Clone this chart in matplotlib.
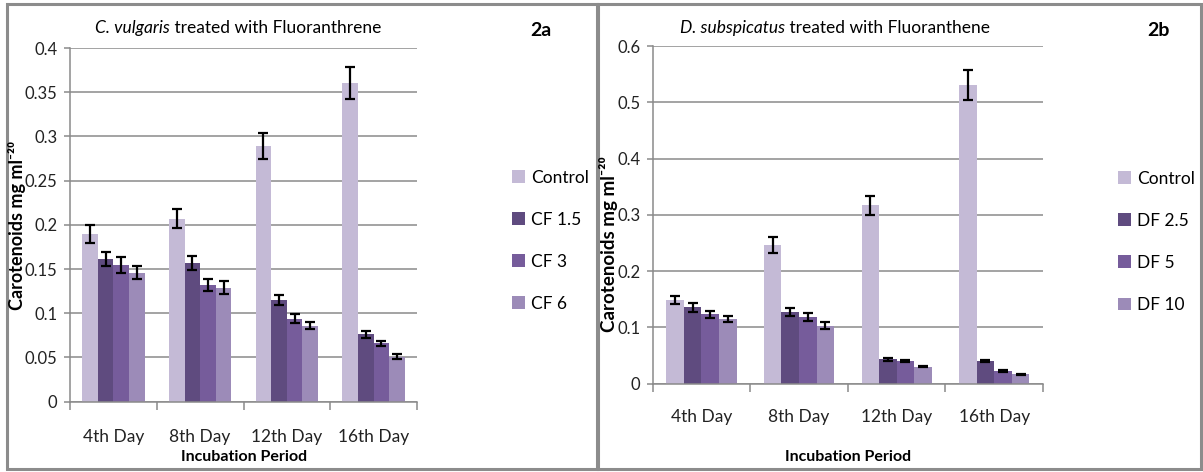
import matplotlib
matplotlib.use("Agg")
import matplotlib.pyplot as plt
from matplotlib.patches import Rectangle
import numpy as np

plt.rcParams['font.family'] = ['Lato', 'DejaVu Sans']

categories = ["4th Day", "8th Day", "12th Day", "16th Day"]

# Panel 2a: C. vulgaris
a_labels = ["Control", "CF 1.5", "CF 3", "CF 6"]
a_control = [0.190, 0.207, 0.289, 0.360]
a_cf15 = [0.161, 0.157, 0.115, 0.076]
a_cf3 = [0.155, 0.132, 0.094, 0.066]
a_cf6 = [0.146, 0.129, 0.086, 0.051]
a_control_err = [0.010, 0.011, 0.015, 0.018]
a_cf15_err = [0.008, 0.008, 0.006, 0.004]
a_cf3_err = [0.009, 0.007, 0.005, 0.003]
a_cf6_err = [0.007, 0.007, 0.004, 0.003]

# Panel 2b: D. subspicatus
b_labels = ["Control", "DF 2.5", "DF 5", "DF 10"]
b_control = [0.148, 0.246, 0.317, 0.531]
b_df25 = [0.136, 0.128, 0.043, 0.040]
b_df5 = [0.123, 0.119, 0.040, 0.023]
b_df10 = [0.115, 0.103, 0.030, 0.017]
b_control_err = [0.007, 0.014, 0.017, 0.027]
b_df25_err = [0.008, 0.007, 0.003, 0.002]
b_df5_err = [0.006, 0.007, 0.002, 0.002]
b_df10_err = [0.006, 0.006, 0.001, 0.001]

colors = ["#C4BAD6", "#5F4B7F", "#765C9B", "#9C8BB8"]

W, H = 1203, 472
fig = plt.figure(figsize=(W / 100, H / 100), dpi=100)
fig.patch.set_facecolor("white")

# panel borders
for (x0, x1) in [(7, 597), (598, 1201)]:
    fig.patches.append(Rectangle((x0 / W, 1 - 469 / H), (x1 - x0) / W, (469 - 4) / H,
                                 transform=fig.transFigure, fill=False,
                                 edgecolor="#8c8c8c", linewidth=2.2, zorder=0))


def fmt(v):
    s = ("%.2f" % v).rstrip("0").rstrip(".")
    return s if s else "0"


def draw(ax, series, errs, labels, ymax, ystep, legend_anchor, catpad):
    n = len(categories)
    x = np.arange(n)
    bw = 0.18
    offsets = (np.arange(4) - 1.5) * bw
    for i, (vals, e) in enumerate(zip(series, errs)):
        ax.bar(x + offsets[i], vals, bw, color=colors[i], label=labels[i], zorder=2,
               yerr=e, error_kw=dict(ecolor="black", elinewidth=1.6, capsize=3.5,
                                     capthick=1.6, zorder=3))
    ax.set_xlim(-0.5, n - 0.5)
    ax.set_ylim(0, ymax)
    yt = np.arange(0, ymax + ystep / 2, ystep)
    ax.set_yticks(yt)
    ax.set_yticklabels([fmt(v) for v in yt], fontsize=12, color="#222222")
    ax.yaxis.grid(True, color="#8a8a8a", linewidth=1.1, zorder=0)
    ax.set_axisbelow(True)
    ax.set_xticks(x)
    ax.set_xticklabels(categories, fontsize=12.5, color="#222222")
    ax.set_xticks(np.arange(-0.5, n, 1.0), minor=True)
    ax.tick_params(axis="x", which="major", length=0, pad=catpad)
    ax.tick_params(axis="x", which="minor", length=6, color="#8a8a8a", width=1.1)
    ax.tick_params(axis="y", length=4, color="#8a8a8a", width=1.1, pad=5)
    for s in ["top", "right"]:
        ax.spines[s].set_visible(False)
    for s in ["left", "bottom"]:
        ax.spines[s].set_color("#8a8a8a")
        ax.spines[s].set_linewidth(1.1)
    ax.legend(loc="center left", bbox_to_anchor=legend_anchor, frameon=False,
              fontsize=12.5, handlelength=0.75, handleheight=0.75,
              handletextpad=0.35, labelspacing=1.5, borderpad=0, borderaxespad=0)


axa = fig.add_axes([70 / W, 70.3 / H, 347 / W, 353.7 / H])
draw(axa, [a_control, a_cf15, a_cf3, a_cf6],
     [a_control_err, a_cf15_err, a_cf3_err, a_cf6_err], a_labels, 0.4, 0.05,
     ((512 - 70) / 347, 0.455), 20)

axb = fig.add_axes([652.7 / W, 88.3 / H, 390.3 / W, 337.7 / H])
draw(axb, [b_control, b_df25, b_df5, b_df10],
     [b_control_err, b_df25_err, b_df5_err, b_df10_err], b_labels, 0.6, 0.1,
     ((1118 - 652.7) / 390.3, 0.42), 18)

ylab = "Carotenoids mg ml\u207b\u00b2\u2070"
fig.text(17 / W, 1 - 226 / H, ylab, rotation=90, ha="center", va="center",
         fontsize=13, fontweight="bold")
fig.text(609 / W, 1 - 244 / H, ylab, rotation=90, ha="center", va="center",
         fontsize=13.5, fontweight="bold")
fig.text(244 / W, 1 - 457 / H, "Incubation Period", ha="center", va="center",
         fontsize=11.5, fontweight="bold")
fig.text(848 / W, 1 - 457 / H, "Incubation Period", ha="center", va="center",
         fontsize=11.5, fontweight="bold")


def title(xc, italic, rest, fs):
    tmp1 = fig.text(0, 0, italic, fontsize=fs, fontstyle="italic")
    tmp2 = fig.text(0, 0, rest, fontsize=fs)
    fig.canvas.draw()
    r = fig.canvas.get_renderer()
    w1 = tmp1.get_window_extent(r).width
    w2 = tmp2.get_window_extent(r).width
    tmp1.remove()
    tmp2.remove()
    x0 = xc - (w1 + w2) / 2
    fig.text(x0 / W, 1 - 28 / H, italic, fontsize=fs, fontstyle="italic",
             ha="left", va="center")
    fig.text((x0 + w1) / W, 1 - 28 / H, rest, fontsize=fs, ha="left", va="center")


title(238, "C. vulgaris", " treated with Fluoranthrene", 12.5)
title(835, "D. subspicatus", " treated with Fluoranthene", 12.5)

fig.text(541 / W, 1 - 30 / H, "2a", ha="center", va="center", fontsize=14, fontweight="bold")
fig.text(1158 / W, 1 - 30 / H, "2b", ha="center", va="center", fontsize=14, fontweight="bold")

fig.savefig("out.png", dpi=100, facecolor="white")
